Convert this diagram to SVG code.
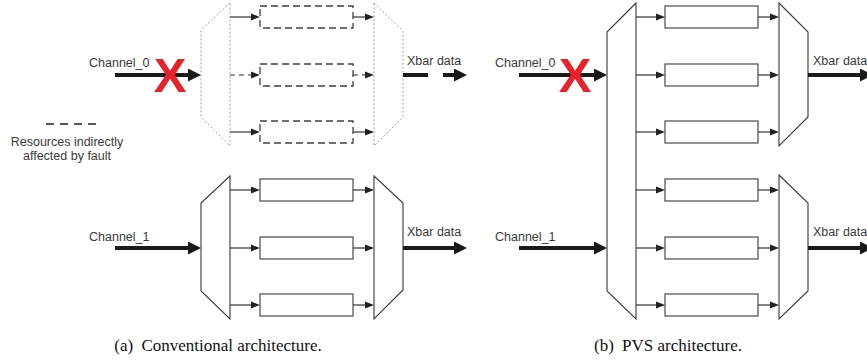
<svg xmlns="http://www.w3.org/2000/svg" width="867" height="362" viewBox="0 0 867 362">
  <style>
    .blk { fill: #ffffff; stroke: #4a4a4a; stroke-width: 1.2; }
    .blk-dash { fill: none; stroke: #3f3f3f; stroke-width: 1.3; stroke-dasharray: 7 4; }
    .trap { fill: #ffffff; stroke: #3a3a3a; stroke-width: 1.1; }
    .trap-dot { fill: none; stroke: #8a8a8a; stroke-width: 0.8; stroke-dasharray: 2 2; }
    .thin { stroke: #333333; stroke-width: 1.2; fill: none; marker-end: url(#head-thin); }
    .thin-dash { stroke: #333333; stroke-width: 1.2; fill: none; stroke-dasharray: 5 4; marker-end: url(#head-thin); }
    .thick { stroke: #1a1a1a; stroke-width: 4; fill: none; marker-end: url(#head-thick); }
    .thick-plain { stroke: #1a1a1a; stroke-width: 4; fill: none; }
    .lbl { font-family: "Liberation Sans", Arial, sans-serif; font-size: 12.5px; fill: #3a3a3a; }
    .cap { font-family: "Liberation Serif", "Times New Roman", serif; font-size: 17px; fill: #111111; }
    .fault { font-family: "Liberation Sans", Arial, sans-serif; font-weight: bold; font-size: 49px; fill: #e8212b; }
  </style>
  <defs>
    <marker id="head-thin" markerUnits="userSpaceOnUse" markerWidth="9" markerHeight="8" refX="0" refY="4" orient="auto">
      <path d="M0,0.5 L9,4 L0,7.5 z" fill="#222222"/>
    </marker>
    <marker id="head-thick" markerUnits="userSpaceOnUse" markerWidth="13" markerHeight="13" refX="0" refY="6.5" orient="auto">
      <path d="M0,0 L13,6.5 L0,13 z" fill="#1a1a1a"/>
    </marker>
  </defs>

  <!-- (a) conventional: channel 0 slice (affected) -->
  <g id="a-demux0"><polygon class="trap-dot" points="230,3 201,30 201,117 230,146"/></g>
  <g id="a-res0-1"><rect class="blk-dash" x="260" y="6" width="93" height="22"/></g>
  <g id="a-res0-2"><rect class="blk-dash" x="260" y="64" width="93" height="22"/></g>
  <g id="a-res0-3"><rect class="blk-dash" x="260" y="121" width="93" height="22"/></g>
  <g id="a-mux0"><polygon class="trap-dot" points="374,3 403,31 403,117 374,146"/></g>

  <!-- (a) conventional: channel 1 slice -->
  <g id="a-demux1"><polygon class="trap" points="230,176 201,203 201,291 230,319"/></g>
  <g id="a-res1-1"><rect class="blk" x="260" y="179" width="93" height="22"/></g>
  <g id="a-res1-2"><rect class="blk" x="260" y="237" width="93" height="22"/></g>
  <g id="a-res1-3"><rect class="blk" x="260" y="294" width="93" height="22"/></g>
  <g id="a-mux1"><polygon class="trap" points="374,176 403,203 403,290 374,319"/></g>

  <!-- (b) PVS: shared demux, six resources, two muxes -->
  <g id="b-demux"><polygon class="trap" points="636,3 607,32 607,291 636,319"/></g>
  <g id="b-res-1"><rect class="blk" x="665" y="6" width="93" height="22"/></g>
  <g id="b-res-2"><rect class="blk" x="665" y="64" width="93" height="22"/></g>
  <g id="b-res-3"><rect class="blk" x="665" y="121" width="93" height="22"/></g>
  <g id="b-res-4"><rect class="blk" x="665" y="179" width="93" height="22"/></g>
  <g id="b-res-5"><rect class="blk" x="665" y="237" width="93" height="22"/></g>
  <g id="b-res-6"><rect class="blk" x="665" y="294" width="93" height="22"/></g>
  <g id="b-mux0"><polygon class="trap" points="779,3 808,32 808,117 779,146"/></g>
  <g id="b-mux1"><polygon class="trap" points="779,175 808,203 808,291 779,319"/></g>

  <!-- connectors -->
  <g id="connectors">
    <!-- (a) channel 0 -->
    <line class="thick" x1="115" y1="75" x2="188" y2="75"/>
    <line class="thin" x1="230" y1="17" x2="251" y2="17"/>
    <line class="thin-dash" x1="230" y1="75" x2="251" y2="75"/>
    <line class="thin" x1="230" y1="132" x2="251" y2="132"/>
    <line class="thin" x1="353" y1="17" x2="365" y2="17"/>
    <line class="thin-dash" x1="353" y1="75" x2="365" y2="75"/>
    <line class="thin" x1="353" y1="132" x2="365" y2="132"/>
    <line class="thick-plain" x1="403" y1="75" x2="428" y2="75"/>
    <line class="thick" x1="443" y1="75" x2="454" y2="75"/>
    <!-- (a) channel 1 -->
    <line class="thick" x1="115" y1="248" x2="188" y2="248"/>
    <line class="thin" x1="230" y1="190" x2="251" y2="190"/>
    <line class="thin" x1="230" y1="248" x2="251" y2="248"/>
    <line class="thin" x1="230" y1="305" x2="251" y2="305"/>
    <line class="thin" x1="353" y1="190" x2="365" y2="190"/>
    <line class="thin" x1="353" y1="248" x2="365" y2="248"/>
    <line class="thin" x1="353" y1="305" x2="365" y2="305"/>
    <line class="thick" x1="403" y1="248" x2="454" y2="248"/>
    <!-- (b) inputs -->
    <line class="thick" x1="519" y1="75" x2="594" y2="75"/>
    <line class="thick" x1="519" y1="248" x2="594" y2="248"/>
    <!-- (b) demux to resources -->
    <line class="thin" x1="636" y1="17" x2="656" y2="17"/>
    <line class="thin" x1="636" y1="75" x2="656" y2="75"/>
    <line class="thin" x1="636" y1="132" x2="656" y2="132"/>
    <line class="thin" x1="636" y1="190" x2="656" y2="190"/>
    <line class="thin" x1="636" y1="248" x2="656" y2="248"/>
    <line class="thin" x1="636" y1="305" x2="656" y2="305"/>
    <!-- (b) resources to muxes -->
    <line class="thin" x1="758" y1="17" x2="770" y2="17"/>
    <line class="thin" x1="758" y1="75" x2="770" y2="75"/>
    <line class="thin" x1="758" y1="132" x2="770" y2="132"/>
    <line class="thin" x1="758" y1="190" x2="770" y2="190"/>
    <line class="thin" x1="758" y1="248" x2="770" y2="248"/>
    <line class="thin" x1="758" y1="305" x2="770" y2="305"/>
    <!-- (b) outputs -->
    <line class="thick" x1="808" y1="75" x2="860" y2="75"/>
    <line class="thick" x1="808" y1="248" x2="860" y2="248"/>
  </g>

  <!-- fault marks -->
  <g id="fault-a"><text class="fault" x="170" y="92" text-anchor="middle">X</text></g>
  <g id="fault-b"><text class="fault" x="575" y="92" text-anchor="middle">X</text></g>

  <!-- legend -->
  <g id="legend">
    <line x1="46" y1="124" x2="96" y2="124" stroke="#222222" stroke-width="1.3" stroke-dasharray="8 6"/>
    <text class="lbl" x="67" y="146" text-anchor="middle">Resources indirectly</text>
    <text class="lbl" x="67" y="160" text-anchor="middle">affected by fault</text>
  </g>

  <!-- labels -->
  <g id="labels">
    <text class="lbl" x="89" y="67">Channel_0</text>
    <text class="lbl" x="89" y="241">Channel_1</text>
    <text class="lbl" x="407" y="65">Xbar data</text>
    <text class="lbl" x="407" y="236">Xbar data</text>
    <text class="lbl" x="495" y="67">Channel_0</text>
    <text class="lbl" x="495" y="241">Channel_1</text>
    <text class="lbl" x="813" y="65">Xbar data</text>
    <text class="lbl" x="813" y="236">Xbar data</text>
  </g>

  <!-- captions -->
  <g id="captions">
    <text class="cap" x="218" y="351" text-anchor="middle">(a)<tspan dx="4"> Conventional architecture.</tspan></text>
    <text class="cap" x="668" y="351" text-anchor="middle">(b)<tspan dx="4"> PVS architecture.</tspan></text>
  </g>
</svg>
